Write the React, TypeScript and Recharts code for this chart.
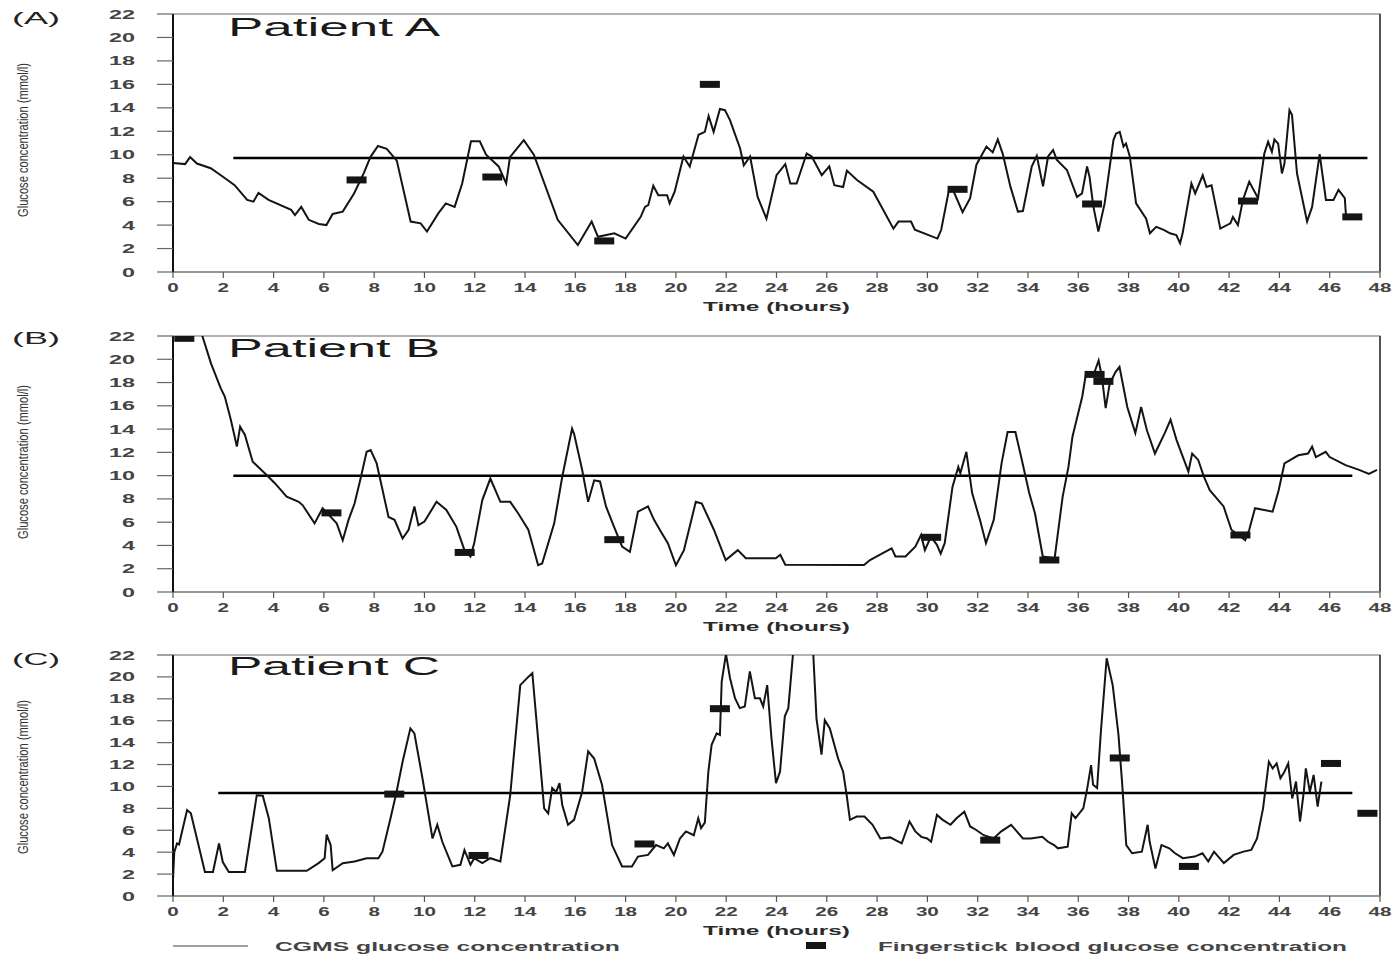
import React from 'react';
import { ComposedChart, Line, Scatter, XAxis, YAxis, ReferenceArea, ReferenceLine, Label } from 'recharts';

type P = [number, number];

const xTicks = [0, 2, 4, 6, 8, 10, 12, 14, 16, 18, 20, 22, 24, 26, 28, 30, 32, 34, 36, 38, 40, 42, 44, 46, 48];
const yTicks = [0, 2, 4, 6, 8, 10, 12, 14, 16, 18, 20, 22];

const panelLetters = ['(A)', '(B)', '(C)'];
const patientNames = ['Patient A', 'Patient B', 'Patient C'];
const yAxisTitle = 'Glucose concentration (mmol/l)';
const xAxisTitle = 'Time  (hours)';
const legendCgms = 'CGMS  glucose  concentration';
const legendFinger = 'Fingerstick  blood  glucose  concentration';

// CGMS readings [hour, mmol/l]
const cgmsA: P[] = [
  [0, 9.3], [0.48, 9.2], [0.68, 9.8], [0.95, 9.25], [1.5, 8.85], [2.0, 8.1], [2.45, 7.4], [2.95, 6.15], [3.2, 6.0],
  [3.4, 6.75], [3.8, 6.15], [4.7, 5.3], [4.85, 4.85], [5.1, 5.55], [5.4, 4.45], [5.8, 4.1], [6.1, 4.0], [6.35, 4.95],
  [6.75, 5.15], [7.2, 6.7], [7.6, 8.5], [7.85, 9.8], [8.15, 10.75], [8.5, 10.5], [8.9, 9.5], [9.45, 4.3], [9.85, 4.15],
  [10.1, 3.45], [10.55, 5.0], [10.85, 5.85], [11.2, 5.55], [11.5, 7.55], [11.85, 11.15], [12.2, 11.15], [12.45, 10.0],
  [12.95, 9.0], [13.25, 7.55], [13.4, 9.8], [13.95, 11.25], [14.35, 10.0], [15.3, 4.45], [16.1, 2.3], [16.65, 4.3],
  [16.9, 3.0], [17.55, 3.3], [18.0, 2.85], [18.6, 4.7], [18.77, 5.55], [18.9, 5.7], [19.1, 7.35], [19.3, 6.55],
  [19.65, 6.55], [19.75, 5.85], [19.95, 6.85], [20.3, 9.85], [20.55, 9.0], [20.9, 11.7], [21.15, 11.95], [21.3, 13.3],
  [21.5, 11.95], [21.75, 13.9], [21.95, 13.8], [22.15, 12.95], [22.55, 10.55], [22.7, 9.1], [22.95, 9.85], [23.25, 6.4],
  [23.6, 4.55], [24.0, 8.25], [24.35, 9.2], [24.55, 7.55], [24.8, 7.55], [25.2, 10.1], [25.4, 9.85], [25.8, 8.25],
  [26.1, 9.0], [26.3, 7.4], [26.65, 7.25], [26.8, 8.65], [27.2, 7.85], [27.85, 6.85], [28.65, 3.7], [28.85, 4.3],
  [29.35, 4.3], [29.5, 3.6], [30.4, 2.85], [30.55, 3.6], [30.85, 6.9], [31.0, 7.1], [31.4, 5.1], [31.7, 6.3],
  [31.95, 9.15], [32.35, 10.7], [32.6, 10.2], [32.8, 11.3], [33.0, 10.05], [33.3, 7.3], [33.6, 5.15], [33.8, 5.2],
  [34.15, 9.0], [34.35, 9.9], [34.6, 7.3], [34.8, 9.85], [35.0, 10.4], [35.15, 9.55], [35.55, 8.7], [35.95, 6.4],
  [36.15, 6.7], [36.35, 9.0], [36.45, 8.1], [36.6, 5.6], [36.8, 3.45], [37.05, 5.85], [37.4, 11.25], [37.5, 11.8],
  [37.65, 11.95], [37.8, 10.7], [37.9, 10.95], [38.05, 9.85], [38.3, 5.85], [38.7, 4.55], [38.85, 3.3], [39.1, 3.85],
  [39.4, 3.6], [39.65, 3.3], [39.9, 3.15], [40.05, 2.45], [40.15, 3.3], [40.5, 7.55], [40.65, 6.7], [40.95, 8.25],
  [41.1, 7.25], [41.3, 7.4], [41.65, 3.7], [42.05, 4.15], [42.15, 4.7], [42.35, 4.0], [42.55, 6.15], [42.8, 7.7],
  [43.15, 6.3], [43.4, 10.1], [43.55, 11.1], [43.7, 10.25], [43.8, 11.3], [43.95, 10.95], [44.1, 8.4], [44.2, 9.25],
  [44.4, 13.8], [44.5, 13.4], [44.7, 8.4], [45.1, 4.3], [45.3, 5.55], [45.6, 10.05], [45.85, 6.15], [46.15, 6.15],
  [46.35, 7.0], [46.6, 6.3], [46.65, 4.7],
];

const cgmsB: P[] = [
  [0.95, 23.5], [1.51, 19.65], [1.9, 17.5], [2.06, 16.8], [2.3, 14.8], [2.54, 12.5], [2.67, 14.2], [2.86, 13.5],
  [3.17, 11.2], [3.65, 10.2], [4.05, 9.35], [4.52, 8.2], [5.0, 7.75], [5.16, 7.45], [5.63, 5.9], [5.95, 7.2],
  [6.27, 6.45], [6.51, 5.9], [6.75, 4.45], [6.98, 6.2], [7.22, 7.6], [7.46, 9.75], [7.7, 12.05], [7.86, 12.2],
  [8.1, 11.05], [8.57, 6.45], [8.81, 6.2], [9.13, 4.6], [9.37, 5.35], [9.6, 7.35], [9.76, 5.75], [10.0, 6.05],
  [10.48, 7.75], [10.87, 7.05], [11.27, 5.6], [11.59, 3.6], [11.83, 3.05], [11.98, 4.2], [12.3, 7.9], [12.62, 9.75],
  [13.02, 7.75], [13.41, 7.75], [13.73, 6.75], [14.13, 5.35], [14.52, 2.3], [14.68, 2.45], [15.16, 5.9], [15.48, 9.9],
  [15.87, 14.05], [15.95, 13.6], [16.27, 10.5], [16.51, 7.75], [16.75, 9.6], [16.98, 9.5], [17.22, 7.35], [17.54, 5.6],
  [17.86, 3.9], [18.17, 3.45], [18.49, 6.9], [18.89, 7.35], [19.13, 6.2], [19.44, 5.05], [19.68, 4.2], [20.0, 2.3],
  [20.32, 3.6], [20.79, 7.75], [21.03, 7.6], [21.51, 5.35], [21.98, 2.75], [22.46, 3.6], [22.78, 2.9], [23.97, 2.9],
  [24.15, 3.2], [24.35, 2.35], [27.48, 2.32], [27.72, 2.75], [28.19, 3.3], [28.58, 3.75], [28.73, 3.05], [29.13, 3.05],
  [29.52, 3.9], [29.75, 4.9], [29.9, 3.6], [30.14, 4.75], [30.38, 4.05], [30.53, 3.3], [30.69, 4.2], [31.0, 9.05],
  [31.23, 10.75], [31.31, 10.2], [31.55, 12.05], [31.78, 8.5], [32.09, 6.2], [32.33, 4.2], [32.64, 6.2], [32.95, 11.05],
  [33.19, 13.75], [33.5, 13.75], [33.73, 11.6], [34.05, 8.5], [34.28, 6.75], [34.59, 3.05], [35.06, 2.9], [35.38, 8.2],
  [35.61, 10.75], [35.77, 13.35], [36.16, 16.8], [36.31, 18.8], [36.63, 18.8], [36.81, 19.9], [36.94, 18.5],
  [37.09, 15.8], [37.25, 17.9], [37.48, 18.9], [37.64, 19.35], [37.95, 15.9], [38.27, 13.65], [38.5, 15.9],
  [38.73, 13.9], [39.05, 11.9], [39.44, 13.65], [39.67, 14.8], [39.91, 13.05], [40.38, 10.35], [40.53, 11.9],
  [40.77, 11.35], [41.0, 9.9], [41.23, 8.75], [41.78, 7.35], [42.09, 5.35], [42.64, 4.45], [42.8, 5.35], [43.03, 7.2],
  [43.73, 6.9], [43.97, 8.75], [44.2, 11.05], [44.44, 11.35], [44.75, 11.75], [45.14, 11.9], [45.3, 12.5],
  [45.45, 11.6], [45.84, 12.05], [46.0, 11.6], [46.63, 10.9], [47.17, 10.5], [47.56, 10.15], [47.88, 10.5],
];

const cgmsC: P[] = [
  [0, 1.5], [0.05, 4.0], [0.16, 4.8], [0.24, 4.7], [0.56, 7.85], [0.71, 7.55], [1.27, 2.2], [1.59, 2.2], [1.83, 4.8],
  [1.98, 3.1], [2.22, 2.2], [2.86, 2.2], [3.17, 6.8], [3.33, 9.2], [3.57, 9.15], [3.81, 7.1], [4.13, 2.3], [5.32, 2.3],
  [5.79, 3.0], [6.03, 3.45], [6.11, 5.6], [6.27, 4.65], [6.35, 2.35], [6.75, 3.0], [7.22, 3.15], [7.7, 3.45],
  [8.17, 3.45], [8.33, 4.05], [8.65, 7.1], [8.89, 9.5], [9.13, 12.25], [9.44, 15.3], [9.6, 14.85], [9.92, 10.75],
  [10.32, 5.25], [10.51, 6.5], [10.71, 4.95], [11.11, 2.7], [11.43, 2.85], [11.59, 4.2], [11.83, 2.85], [11.98, 3.45],
  [12.3, 3.0], [12.62, 3.45], [13.02, 3.15], [13.41, 9.2], [13.81, 19.25], [14.13, 20.0], [14.29, 20.35], [14.76, 8.0],
  [14.92, 7.55], [15.08, 9.85], [15.24, 9.5], [15.37, 10.3], [15.48, 8.3], [15.71, 6.5], [15.95, 6.95], [16.27, 9.5],
  [16.51, 13.2], [16.75, 12.55], [17.06, 10.15], [17.46, 4.65], [17.86, 2.7], [18.25, 2.7], [18.49, 3.6], [18.89, 3.75],
  [19.21, 4.65], [19.52, 4.35], [19.68, 4.8], [19.92, 3.75], [20.16, 5.25], [20.4, 5.9], [20.71, 5.55], [20.89, 7.1],
  [21.0, 6.2], [21.15, 6.7], [21.29, 11.35], [21.42, 13.8], [21.62, 14.85], [21.75, 14.7], [21.82, 19.55], [21.99, 22.1],
  [22.15, 19.9], [22.35, 18.05], [22.54, 17.15], [22.74, 17.3], [22.94, 20.5], [23.14, 18.05], [23.34, 18.05],
  [23.47, 17.3], [23.63, 19.25], [23.8, 14.4], [23.98, 10.3], [24.14, 11.35], [24.33, 16.4], [24.47, 17.15],
  [24.66, 22.2], [25.05, 26.0], [25.46, 22.2], [25.59, 16.2], [25.79, 12.9], [25.92, 16.05], [26.12, 15.3],
  [26.45, 12.55], [26.65, 11.35], [26.79, 9.2], [26.92, 6.95], [27.19, 7.25], [27.5, 7.25], [27.82, 6.5], [28.13, 5.25],
  [28.52, 5.35], [28.98, 4.8], [29.29, 6.8], [29.52, 5.9], [29.76, 5.4], [29.99, 5.25], [30.15, 4.95], [30.38, 7.4],
  [30.61, 6.95], [30.92, 6.5], [31.16, 7.1], [31.47, 7.7], [31.7, 6.35], [31.93, 6.05], [32.24, 5.55], [32.63, 5.25],
  [32.94, 5.9], [33.33, 6.5], [33.8, 5.25], [34.11, 5.25], [34.57, 5.4], [34.8, 4.95], [35.04, 4.65], [35.19, 4.35],
  [35.58, 4.5], [35.74, 7.55], [35.89, 7.1], [36.2, 8.0], [36.36, 9.85], [36.51, 11.95], [36.59, 10.15], [36.75, 9.85],
  [36.9, 15.0], [37.13, 21.7], [37.37, 19.25], [37.6, 14.7], [37.75, 10.15], [37.91, 4.65], [38.14, 3.9], [38.53, 4.05],
  [38.76, 6.5], [38.84, 4.95], [39.07, 2.5], [39.31, 4.65], [39.62, 4.35], [39.85, 3.9], [40.16, 3.45], [40.63, 3.6],
  [40.94, 3.9], [41.17, 3.15], [41.4, 4.05], [41.79, 3.0], [42.18, 3.75], [42.57, 4.05], [42.88, 4.2], [43.11, 5.25],
  [43.35, 8.0], [43.58, 12.25], [43.73, 11.65], [43.89, 12.1], [44.04, 10.75], [44.2, 11.35], [44.35, 12.1],
  [44.51, 8.9], [44.66, 10.45], [44.82, 6.8], [44.97, 9.5], [45.05, 11.65], [45.21, 9.5], [45.36, 11.05], [45.52, 8.15],
  [45.67, 10.45],
];

// Fingerstick blood glucose [hour, mmol/l]
const fingerA: P[] = [[7.3, 7.85], [12.7, 8.1], [17.15, 2.65], [21.35, 16.0], [31.2, 7.05], [36.55, 5.8], [42.75, 6.05], [46.9, 4.7]];
const fingerB: P[] = [[0.45, 21.8], [6.3, 6.8], [11.6, 3.4], [17.55, 4.5], [30.15, 4.7], [34.85, 2.75], [36.65, 18.7], [37.0, 18.1], [42.45, 4.9]];
const fingerC: P[] = [[8.8, 9.3], [12.15, 3.7], [18.75, 4.75], [21.75, 17.1], [32.5, 5.1], [37.65, 12.6], [40.4, 2.7], [46.05, 12.1], [47.5, 7.55]];

// Horizontal target line [hour, mmol/l]
const targetA: P[] = [[2.4, 9.72], [47.5, 9.72]];
const targetB: P[] = [[2.4, 10.0], [46.9, 10.0]];
const targetC: P[] = [[1.8, 9.4], [46.9, 9.4]];

const toRows = (pts: P[]) => pts.map(([h, v]) => ({ h, v }));

const FONT = '"Liberation Sans", Arial, Helvetica, sans-serif';

function XTick(props: any) {
  const { x, y, payload } = props;
  const s = String(payload.value);
  return (
    <text x={x} y={y} dy={10} textAnchor="middle" fontSize={12} fontWeight="bold" fontFamily={FONT} fill="#444"
      textLength={s.length * 11.5} lengthAdjust="spacingAndGlyphs">{s}</text>
  );
}

function YTick(props: any) {
  const { x, y, payload } = props;
  const s = String(payload.value);
  return (
    <text x={x} y={y} dy={4.5} textAnchor="end" fontSize={12} fontWeight="bold" fontFamily={FONT} fill="#444"
      textLength={s.length * 13} lengthAdjust="spacingAndGlyphs">{s}</text>
  );
}

function XTitle(props: any) {
  const vb = props.viewBox || {};
  const cx = (vb.x || 0) + (vb.width || 0) / 2;
  const y = (vb.y || 0) + 39;
  return (
    <text x={cx} y={y} textAnchor="middle" fontSize={13} fontWeight="bold" fontFamily={FONT} fill="#2a2a2a"
      textLength={147} lengthAdjust="spacingAndGlyphs">{xAxisTitle}</text>
  );
}

function FingerMark(props: any) {
  const { cx, cy } = props;
  if (cx == null || cy == null) return null;
  return <rect x={cx - 10} y={cy - 3.5} width={20} height={7} fill="#151515" />;
}

interface PanelProps {
  top: number;
  height: number;
  marginTop: number;
  cgms: P[];
  finger: P[];
  target: P[];
}

function Panel({ top, height, marginTop, cgms, finger, target }: PanelProps) {
  return (
    <div style={{ position: 'absolute', left: 0, top, width: 1394, height }}>
      <ComposedChart width={1394} height={height} margin={{ top: marginTop, right: 14, bottom: 0, left: 0 }}>
        <XAxis type="number" dataKey="h" domain={[0, 48]} ticks={xTicks} interval={0} allowDataOverflow
          height={48} tickSize={6} tickMargin={4} tick={<XTick />}
          axisLine={{ stroke: '#8c8c8c', strokeWidth: 1.5 }} tickLine={{ stroke: '#555', strokeWidth: 1.2 }}>
          <Label content={<XTitle />} />
        </XAxis>
        <YAxis type="number" dataKey="v" domain={[0, 22]} ticks={yTicks} interval={0} allowDataOverflow
          width={173} tickSize={16} tickMargin={22} tick={<YTick />}
          axisLine={{ stroke: '#111', strokeWidth: 2 }} tickLine={{ stroke: '#666', strokeWidth: 1.2 }} />
        <ReferenceArea x1={0} x2={48} y1={0} y2={22} fill="none" stroke="#9a9a9a" strokeWidth={1.5} />
        <ReferenceLine x={48} stroke="#333" strokeWidth={1.5} />
        <Line data={toRows(target)} dataKey="v" stroke="#000" strokeWidth={2.5} dot={false}
          isAnimationActive={false} legendType="none" />
        <Line data={toRows(cgms)} dataKey="v" type="linear" stroke="#141414" strokeWidth={2} dot={false}
          isAnimationActive={false} />
        <Scatter data={toRows(finger)} dataKey="v" shape={<FingerMark />} isAnimationActive={false} />
      </ComposedChart>
    </div>
  );
}

const panelTops = [0, 320, 640];
const letterBaselines = [24, 344, 665];
const nameBaselines = [36, 357, 675];
const yTitleCenters = [140, 462, 777];

export default function App() {
  return (
    <div style={{ position: 'absolute', left: 0, top: 0, width: 1394, height: 956, background: '#fff', overflow: 'hidden' }}>
      <Panel top={panelTops[0]} height={320} marginTop={14} cgms={cgmsA} finger={fingerA} target={targetA} />
      <Panel top={panelTops[1]} height={320} marginTop={16} cgms={cgmsB} finger={fingerB} target={targetB} />
      <Panel top={panelTops[2]} height={304} marginTop={15} cgms={cgmsC} finger={fingerC} target={targetC} />
      <svg width={1394} height={956} style={{ position: 'absolute', left: 0, top: 0, pointerEvents: 'none' }}>
        {panelLetters.map((t, i) => (
          <text key={t} x={12} y={letterBaselines[i]} fontSize={17} fontFamily={FONT} fill="#222"
            textLength={48} lengthAdjust="spacingAndGlyphs">{t}</text>
        ))}
        {patientNames.map((t, i) => (
          <text key={t} x={228} y={nameBaselines[i]} fontSize={26} fontFamily={FONT} fill="#1a1a1a"
            textLength={212} lengthAdjust="spacingAndGlyphs">{t}</text>
        ))}
        {yTitleCenters.map((cy, i) => (
          <g key={i} transform={`translate(23, ${cy}) rotate(-90)`}>
            <text x={0} y={5} textAnchor="middle" fontSize={15} fontFamily={FONT} fill="#333"
              textLength={154} lengthAdjust="spacingAndGlyphs">{yAxisTitle}</text>
          </g>
        ))}
        <line x1={173} y1={946} x2={248} y2={946} stroke="#a0a0a0" strokeWidth={2} />
        <text x={275} y={951} fontSize={13} fontWeight="bold" fontFamily={FONT} fill="#444" textLength={345} lengthAdjust="spacingAndGlyphs">{legendCgms}</text>
        <rect x={806} y={942} width={20} height={7} fill="#151515" />
        <text x={878} y={951} fontSize={13} fontWeight="bold" fontFamily={FONT} fill="#444" textLength={469} lengthAdjust="spacingAndGlyphs">{legendFinger}</text>
      </svg>
    </div>
  );
}
